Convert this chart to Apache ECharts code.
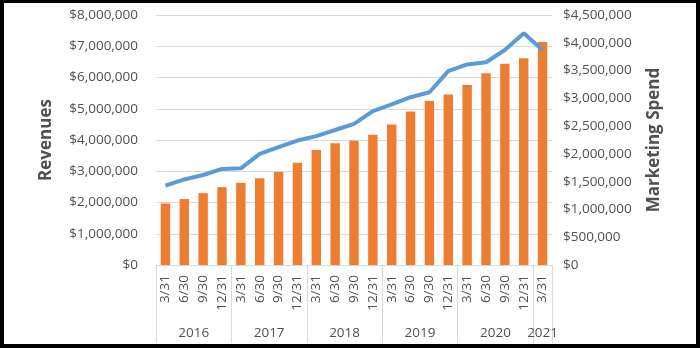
<!DOCTYPE html>
<html>
<head>
<meta charset="utf-8">
<script src="https://cdn.jsdelivr.net/npm/echarts@6/dist/echarts.min.js"></script>
<style>
  html, body { margin: 0; padding: 0; background: #fff; }
  #wrap { position: relative; width: 700px; height: 348px; }
  #chart { position: absolute; left: 0; top: 0; width: 700px; height: 348px; }
  #frame { position: absolute; left: 0; top: 0; width: 700px; height: 348px; box-sizing: border-box;
           border-style: solid; border-color: #000; border-width: 3px 4px 4px 4px; pointer-events: none; }
</style>
</head>
<body>
<div id="wrap"><div id="chart"></div><div id="frame"></div></div>
<script>
// ---- data ----
const quarters = ['3/31','6/30','9/30','12/31','3/31','6/30','9/30','12/31','3/31','6/30','9/30','12/31',
                  '3/31','6/30','9/30','12/31','3/31','6/30','9/30','12/31','3/31'];
const years = ['2016','2017','2018','2019','2020','2021'];
const quartersPerYear = [4, 4, 4, 4, 4, 1];
const revenues = [1970000, 2110000, 2300000, 2490000, 2630000, 2780000, 2980000, 3270000, 3680000, 3900000,
                  3980000, 4170000, 4500000, 4910000, 5250000, 5460000, 5760000, 6140000, 6440000, 6620000, 7140000];
const marketingSpend = [1430000, 1540000, 1620000, 1730000, 1740000, 2000000, 2120000, 2240000, 2320000, 2430000,
                        2540000, 2770000, 2890000, 3020000, 3110000, 3490000, 3610000, 3650000, 3870000, 4170000, 3870000];
const leftTicks = { min: 0, max: 8000000, interval: 1000000 };
const rightTicks = { min: 0, max: 4500000, interval: 500000 };

// group boundaries and centres derived from the quarter counts
const boundaries = [0];
quartersPerYear.forEach(n => boundaries.push(boundaries[boundaries.length - 1] + n));
const centres = quartersPerYear.map((n, i) => boundaries[i] + n / 2);

const fmt = v => '$' + Number(v).toLocaleString('en-US');
const FONT = 'Open Sans';
const GRAY = '#505050';
const LINE = '#D9D9D9';
const FS = 13.5;

const chart = echarts.init(document.getElementById('chart'), null, { renderer: 'canvas' });
chart.setOption({
  animation: false,
  grid: { left: 156, right: 148, top: 15, bottom: 83 },
  xAxis: [
    {
      type: 'category',
      data: quarters,
      position: 'bottom',
      axisLine: { show: true, lineStyle: { color: LINE, width: 1 } },
      axisTick: { show: false },
      axisLabel: { rotate: 90, margin: 10, color: GRAY, fontFamily: FONT, fontSize: FS, interval: 0 }
    },
    {
      type: 'value',
      min: 0,
      max: quarters.length,
      position: 'bottom',
      axisLine: { show: false },
      splitLine: { show: false },
      axisTick: { show: true, customValues: boundaries, length: 78, lineStyle: { color: LINE, width: 1 } },
      axisLabel: {
        customValues: centres,
        margin: 61,
        color: GRAY, fontFamily: FONT, fontSize: FS,
        formatter: v => { const i = centres.indexOf(v); return i >= 0 ? years[i] : ''; }
      }
    }
  ],
  yAxis: [
    {
      type: 'value',
      min: leftTicks.min, max: leftTicks.max, interval: leftTicks.interval,
      name: 'Revenues',
      nameLocation: 'middle',
      nameGap: 101,
      nameTextStyle: { color: GRAY, fontFamily: FONT, fontSize: 17, fontWeight: 'bold' },
      axisLine: { show: false },
      axisTick: { show: false },
      splitLine: { show: true, lineStyle: { color: LINE, width: 1 } },
      axisLabel: { formatter: fmt, margin: 18, color: GRAY, fontFamily: FONT, fontSize: FS }
    },
    {
      type: 'value',
      position: 'right',
      min: rightTicks.min, max: rightTicks.max, interval: rightTicks.interval,
      name: 'Marketing Spend',
      nameLocation: 'middle',
      nameGap: 94,
      nameTextStyle: { color: GRAY, fontFamily: FONT, fontSize: 17, fontWeight: 'bold' },
      axisLine: { show: false },
      axisTick: { show: false },
      splitLine: { show: false },
      axisLabel: { formatter: fmt, margin: 11, color: GRAY, fontFamily: FONT, fontSize: FS }
    }
  ],
  series: [
    {
      name: 'Revenues',
      type: 'bar',
      xAxisIndex: 0,
      yAxisIndex: 0,
      data: revenues,
      barWidth: '50%',
      itemStyle: { color: '#ED7D31' }
    },
    {
      name: 'Marketing Spend',
      type: 'line',
      xAxisIndex: 0,
      yAxisIndex: 1,
      data: marketingSpend,
      symbol: 'none',
      lineStyle: { color: '#5B9BD5', width: 4 },
      z: 5
    }
  ]
});
</script>
</body>
</html>
